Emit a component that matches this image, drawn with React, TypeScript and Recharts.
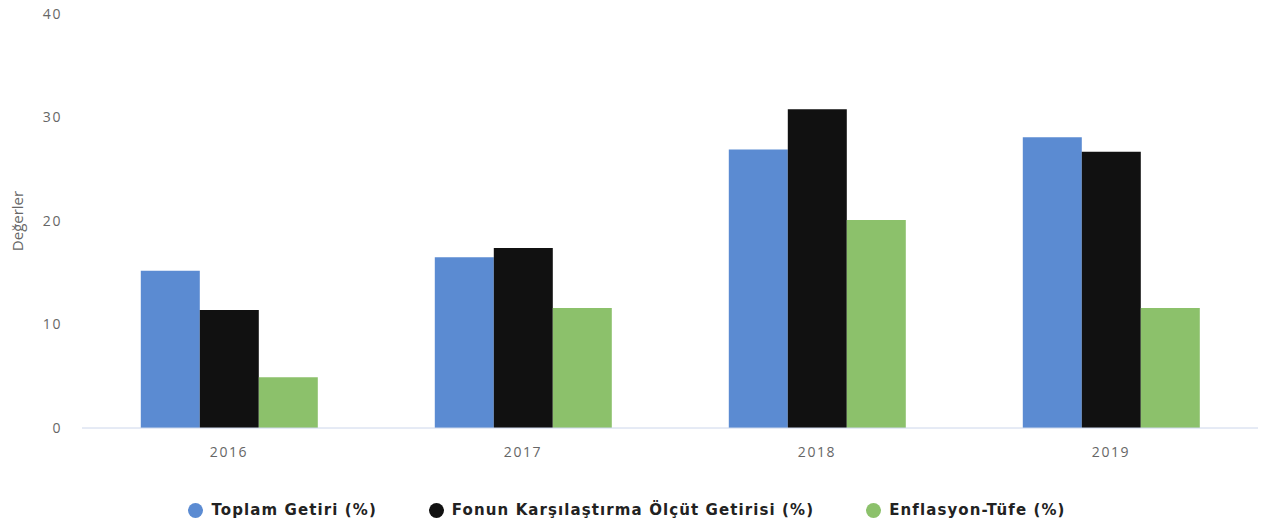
import React from 'react';
import { BarChart, Bar, XAxis, YAxis, Legend } from 'recharts';

const years = ['2016', '2017', '2018', '2019'];
const toplamGetiri = [15.2, 16.5, 26.9, 28.1];
const olcutGetiri = [11.4, 17.4, 30.8, 26.7];
const enflasyon = [4.9, 11.6, 20.1, 11.6];
const yTicks = [0, 10, 20, 30, 40];

const SERIES = [
  { key: 'toplam', name: 'Toplam Getiri (%)', color: '#5b8bd2' },
  { key: 'olcut', name: 'Fonun Karşılaştırma Ölçüt Getirisi (%)', color: '#111111' },
  { key: 'enflasyon', name: 'Enflasyon-Tüfe (%)', color: '#8cc16b' },
];

const data = years.map((year, i) => ({
  year,
  toplam: toplamGetiri[i],
  olcut: olcutGetiri[i],
  enflasyon: enflasyon[i],
}));

const tickStyle = { fill: '#666666', fontSize: 14, letterSpacing: 1.6, fontFamily: '"Open Sans", sans-serif' };

function LegendRow() {
  return (
    <div style={{ display: 'flex', justifyContent: 'center', gap: 52, paddingTop: 13, paddingRight: 4 }}>
      {SERIES.map(s => (
        <div key={s.key} style={{ display: 'flex', alignItems: 'center' }}>
          <span
            style={{
              width: 15,
              height: 15,
              borderRadius: '50%',
              background: s.color,
              marginRight: 8,
              display: 'inline-block',
            }}
          />
          <span
            style={{
              fontFamily: '"DejaVu Sans", sans-serif',
              fontWeight: 'bold',
              fontSize: 15,
              letterSpacing: 1.1,
              color: '#222',
            }}
          >
            {s.name}
          </span>
        </div>
      ))}
    </div>
  );
}

export default function App() {
  return (
    <div style={{ position: 'absolute', left: 0, top: 0, background: '#fff' }}>
      <BarChart
        width={1266}
        height={529}
        data={data}
        margin={{ top: 14, right: 8, bottom: 0, left: 0 }}
        barCategoryGap="20%"
        barGap={0}
      >
        <XAxis
          dataKey="year"
          axisLine={{ stroke: '#ccd6eb' }}
          tickLine={false}
          tick={tickStyle}
          tickMargin={13}
          height={60}
        />
        <YAxis
          domain={[0, 40]}
          ticks={yTicks}
          axisLine={false}
          tickLine={false}
          tick={tickStyle}
          width={82}
          tickMargin={14}
          label={{
            value: 'Değerler',
            angle: -90,
            position: 'insideLeft',
            offset: 18,
            style: { fill: '#666666', fontSize: 15, fontFamily: '"Open Sans", sans-serif', textAnchor: 'middle' },
          }}
        />
        <Legend verticalAlign="bottom" height={41} content={() => <LegendRow />} />
        {SERIES.map(s => (
          <Bar key={s.key} dataKey={s.key} name={s.name} fill={s.color} isAnimationActive={false} />
        ))}
      </BarChart>
    </div>
  );
}
